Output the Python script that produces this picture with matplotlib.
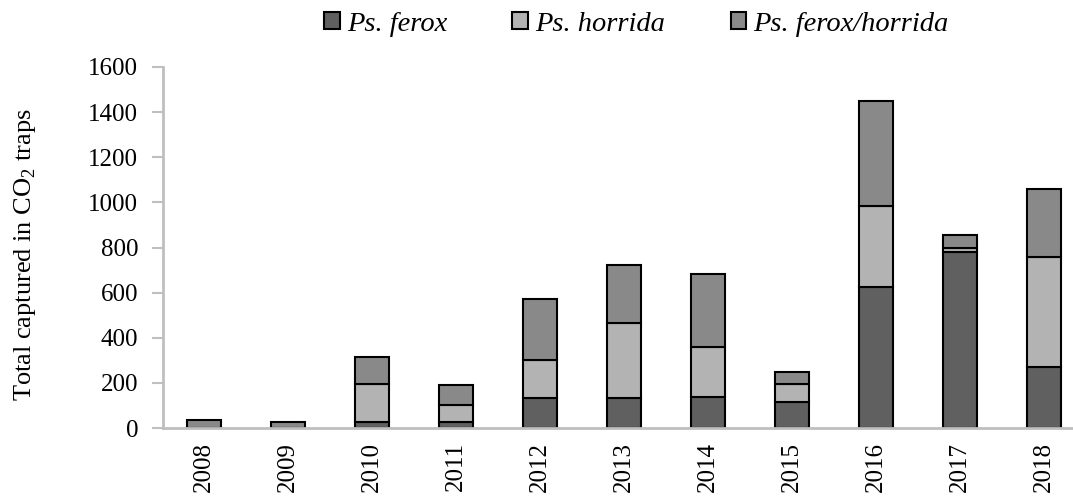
import numpy as np
import matplotlib.pyplot as plt

plt.rcParams['font.family'] = ['Liberation Serif', 'DejaVu Serif']
plt.rcParams['mathtext.fontset'] = 'custom'
plt.rcParams['mathtext.rm'] = 'Liberation Serif'

# Data
years = ['2008', '2009', '2010', '2011', '2012', '2013', '2014', '2015', '2016', '2017', '2018']
ferox = [0, 0, 25, 25, 132, 132, 137, 115, 623, 781, 269]
horrida = [0, 0, 171, 78, 169, 332, 222, 81, 359, 15, 487]
mixed = [37, 28, 119, 87, 272, 258, 323, 53, 465, 59, 304]

fig = plt.figure(figsize=(10.73, 4.96), dpi=100)
ax = fig.add_axes([0.152, 0.137, 0.848, 0.728])

x = np.arange(len(years))
w = 0.40
b1 = np.array(ferox)
b2 = b1 + np.array(horrida)

ax.bar(x, ferox, w, color='#606060', edgecolor='black', linewidth=1.5, label='Ps. ferox')
ax.bar(x, horrida, w, bottom=b1, color='#b3b3b3', edgecolor='black', linewidth=1.5, label='Ps. horrida')
ax.bar(x, mixed, w, bottom=b2, color='#898989', edgecolor='black', linewidth=1.5, label='Ps. ferox/horrida')

ax.set_xlim(-0.49, len(years) - 0.655)
ax.set_ylim(0, 1600)
ax.set_yticks(range(0, 1601, 200))
ax.set_xticks(x)
ax.set_xticklabels(years, rotation=90, fontsize=18)
ax.tick_params(axis='y', labelsize=18, color='#bfbfbf', length=8, width=1.5, pad=10)
ax.tick_params(axis='x', length=0, pad=10)

for s in ['top', 'right']:
    ax.spines[s].set_visible(False)
for s in ['left', 'bottom']:
    ax.spines[s].set_color('#bfbfbf')
    ax.spines[s].set_linewidth(2)

ax.set_ylabel('Total captured in CO$_2$ traps', fontsize=19)
ax.yaxis.set_label_coords(-0.138, 0.48)

leg = fig.legend(loc='upper center', bbox_to_anchor=(0.593, 1.028), ncol=3, frameon=False,
                 prop={'style': 'italic', 'size': 20.5}, handlelength=0.55, handleheight=0.55,
                 handletextpad=0.25, columnspacing=2.3)

plt.savefig('out.png', dpi=100)
